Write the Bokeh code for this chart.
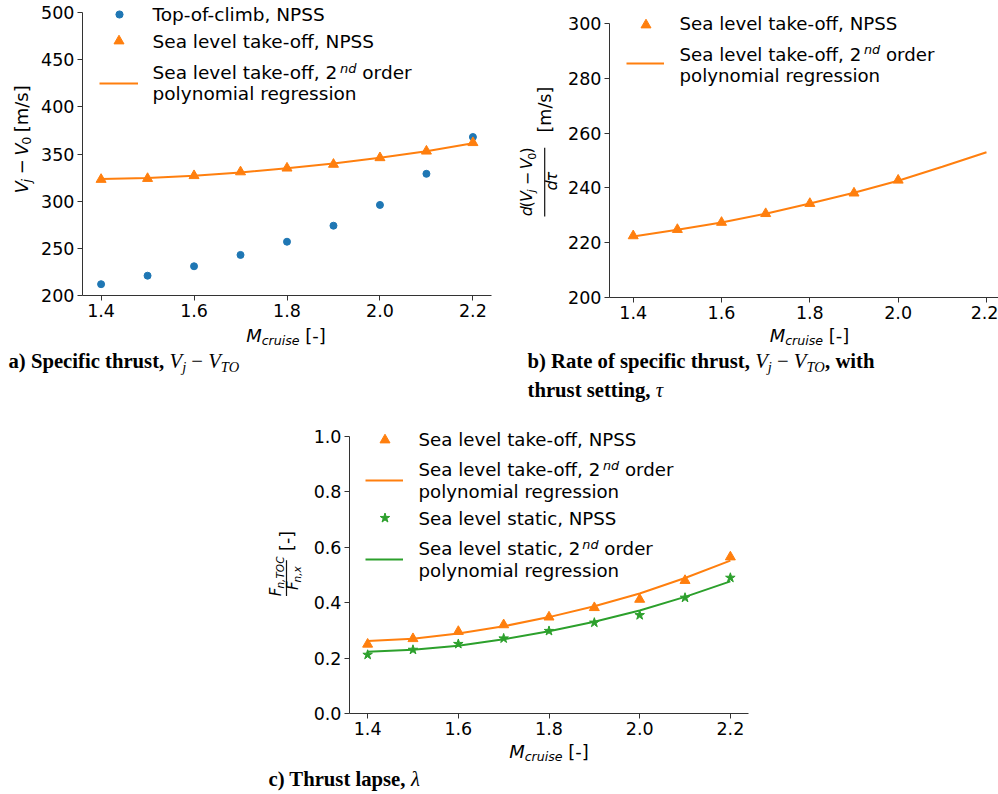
import math
from bokeh.plotting import figure
from bokeh.models import (Label, Legend, LegendItem, FixedTicker, PrintfTickFormatter,
                          BoxAnnotation, Range1d)
from bokeh.layouts import column, row
from bokeh.embed import file_html
from bokeh.resources import INLINE

# ---------------- data ----------------
mach = [1.4, 1.5, 1.6, 1.7, 1.8, 1.9, 2.0, 2.1, 2.2]
mach_b_npss = [1.4, 1.5, 1.6, 1.7, 1.8, 1.9, 2.0]
spec_thrust_toc_npss = [212, 221, 231, 243, 257, 274, 296, 329, 368]
spec_thrust_slto_npss = [323, 324, 327, 331, 335, 339, 346, 353, 362]
spec_thrust_slto_fit = [323.5, 324.5, 327, 330.5, 335, 340, 346, 353, 361.5]
rate_slto_npss = [222.5, 224.8, 227.4, 230.6, 234.3, 238.1, 242.8]
rate_slto_fit = [222.3, 224.7, 227.4, 230.6, 234.3, 238.2, 242.6, 247.7, 253.0]
lapse_slto_npss = [0.250, 0.270, 0.296, 0.320, 0.348, 0.382, 0.412, 0.480, 0.565]
lapse_slto_fit = [0.262, 0.270, 0.289, 0.315, 0.348, 0.387, 0.433, 0.489, 0.552]
lapse_sls_npss = [0.212, 0.230, 0.251, 0.271, 0.298, 0.328, 0.355, 0.418, 0.490]
lapse_sls_fit = [0.223, 0.230, 0.245, 0.268, 0.297, 0.331, 0.372, 0.421, 0.477]

x_ticks = [1.4, 1.6, 1.8, 2.0, 2.2]
a_y_ticks = [200, 250, 300, 350, 400, 450, 500]
b_y_ticks = [200, 220, 240, 260, 280, 300]
c_y_ticks = [0.0, 0.2, 0.4, 0.6, 0.8, 1.0]

BLUE, ORANGE, GREEN = "#1f77b4", "#ff7f0e", "#2ca02c"
AX = "#333333"
SANS = "DejaVu Sans"
SERIF = "Liberation Serif"
WS = " \u2009"
MID = {SANS: 0.346, SERIF: 0.3375}   # baseline -> middle-of-text-box offset (em)

# ---------------- approximate advance widths (em) for composing rich text ----------------
DV = {' ': .318, '\u2009': .15, '(': .390, ')': .390, ',': .318, '-': .361, '.': .318,
      '/': .337, '[': .390, ']': .390, '\u2212': .838, 'A': .684, 'C': .698, 'F': .575,
      'M': .863, 'N': .748, 'O': .787, 'P': .603, 'S': .635, 'T': .611, 'V': .684,
      'a': .613, 'b': .635, 'c': .550, 'd': .635, 'e': .615, 'f': .352, 'g': .635,
      'i': .278, 'j': .278, 'k': .579, 'l': .278, 'm': .974, 'n': .634, 'o': .612,
      'p': .635, 'r': .411, 's': .521, 't': .392, 'u': .634, 'v': .592, 'x': .592,
      'y': .592, '\u03c4': .560}
for _d in "0123456789":
    DV[_d] = .636
TB = {' ': .25, '(': .333, ')': .333, ',': .25, 'a': .5, 'b': .556, 'c': .444, 'e': .444,
      'f': .333, 'g': .5, 'h': .556, 'i': .278, 'l': .278, 'n': .556, 'o': .5, 'p': .556,
      'r': .444, 's': .389, 't': .333, 'u': .556, 'w': .722, 'T': .667, 'R': .722, 'S': .556}
TI = {' ': .25, 'V': .611, 'T': .556, 'O': .722, 'j': .278, '\u03c4': .44, '\u03bb': .5}
TR = {' ': .25, '\u2212': .564}


def tw(text, size, table):
    return sum(table.get(ch, 0.6) for ch in text) * size


# -------- coordinate mappers: page (x, y from top-left) -> label coords --------
def frame_map(fl, fb):
    return lambda x, y: (x - fl, fb - y, "screen")


def data_map():
    return lambda x, y: (x, y, "data")


def rich(p, mp, x0, y0, pieces, vertical=False, anchor="left"):
    """pieces: (text, size, font, style, width_table, baseline_raise); x0, y0 = baseline, page coords."""
    total = sum(tw(t, sz, tab) for (t, sz, f, st, tab, sh) in pieces)
    s = -total / 2 if anchor == "center" else 0.0
    for (t, sz, f, st, tab, sh) in pieces:
        core = t.strip(WS)
        lead = t[:len(t) - len(t.lstrip(WS))]
        sc = s + tw(lead, sz, tab)
        if core:
            up = sh + MID[f] * sz
            if vertical:
                px, py = x0 - up, y0 - sc
            else:
                px, py = x0 + sc, y0 - up
            lx, ly, units = mp(px, py)
            p.add_layout(Label(x=lx, y=ly, x_units=units, y_units=units,
                               text=core, text_font=f, text_font_style=st,
                               text_font_size=f"{sz}px", text_color="black",
                               text_align="left", text_baseline="middle",
                               angle=math.pi / 2 if vertical else 0.0))
        s += tw(t, sz, tab)


def text_fig(x0, y0, w, h):
    p = figure(width=w, height=h, x_range=Range1d(x0, x0 + w), y_range=Range1d(y0 + h, y0),
               min_border=0, min_border_left=0, min_border_right=0, min_border_top=0,
               min_border_bottom=0, x_axis_location=None, y_axis_location=None,
               output_backend="svg", toolbar_location=None, title=None)
    p.outline_line_color = None
    p.xgrid.visible = False
    p.ygrid.visible = False
    return p


def bar(p, x1, x2, y1, y2):
    p.add_layout(BoxAnnotation(left=x1, right=x2, top=y1, bottom=y2,
                               fill_color="#111111", fill_alpha=1.0, line_alpha=0.0))


def legend_glyph(p, fl, fb, r, cx, cy, gw, gh):
    p.add_layout(Legend(items=[LegendItem(label=" ", renderers=[r])],
                        location=(cx - gw / 2 - fl, fb - cy - gh / 2),
                        glyph_width=gw, glyph_height=gh, label_height=gh, label_width=1,
                        label_standoff=0, label_text_font_size="1px", padding=0, margin=0,
                        spacing=0, border_line_alpha=0, background_fill_alpha=0))


def make_panel(bl, fw, br, bt, fh, bb, xr, yr, yt, yfmt, ybounds):
    p = figure(frame_width=fw, frame_height=fh, min_border_left=bl, min_border_right=br,
               min_border_top=bt, min_border_bottom=bb, x_range=Range1d(*xr),
               y_range=Range1d(*yr), output_backend="svg", toolbar_location=None, title=None)
    p.outline_line_color = None
    p.xgrid.visible = False
    p.ygrid.visible = False
    for ax, ticks, fmt in ((p.xaxis[0], x_ticks, "%.1f"), (p.yaxis[0], yt, yfmt)):
        ax.ticker = FixedTicker(ticks=ticks, minor_ticks=[])
        ax.formatter = PrintfTickFormatter(format=fmt)
        ax.axis_line_color = AX
        ax.major_tick_line_color = AX
        ax.major_tick_out = 5
        ax.major_tick_in = 0
        ax.minor_tick_line_color = None
        ax.major_label_text_font = SANS
        ax.major_label_text_font_size = "17.5px"
        ax.major_label_text_color = "black"
        ax.major_label_standoff = 3
    p.yaxis[0].bounds = ybounds
    return p


def xlabel(p, cx, base):
    rich(p, data_map(), cx, base, [("M", 18, SANS, "italic", DV, 0),
                                   ("cruise", 12.6, SANS, "italic", DV, -3),
                                   (" [-]", 18, SANS, "normal", DV, 0)], anchor="center")


def vj_minus_vto(size, sub):
    return [("V", size, SERIF, "italic", TI, 0), ("j", sub, SERIF, "italic", TI, -4),
            (" \u2212 ", size, SERIF, "normal", TR, 0), ("V", size, SERIF, "italic", TI, 0),
            ("TO", sub, SERIF, "italic", TI, -4)]


def second_order(prefix, size, sup):
    return [(prefix, size, SANS, "normal", DV, 0),
            ("\u2009nd", sup, SANS, "italic", DV, 0.35 * size),
            (" order", size, SANS, "normal", DV, 0)]


LS = 18.2  # legend font size (b, c)
CS = 20.7  # caption font size

# ================= panel a =================
# frame 4..295 (page), 500 at y=12, 200 at y=295
FL_A, FB_A = 81, 295
pa = make_panel(43, 409, 10, 4, 291, 30, (1.36, 2.24), (200, 500 + 8 * 300 / 283),
                a_y_ticks, "%d", (200, 500))
r_toc = pa.scatter(mach, spec_thrust_toc_npss, marker="circle", size=7, color=BLUE)
r_to_a = pa.scatter(mach, spec_thrust_slto_npss, marker="triangle", size=10, color=ORANGE)
r_fit_a = pa.line(mach, spec_thrust_slto_fit, line_width=2, color=ORANGE)
ma = frame_map(FL_A, FB_A)
legend_glyph(pa, FL_A, FB_A, r_toc, 117.5, 13.5, 18, 18)
legend_glyph(pa, FL_A, FB_A, r_to_a, 117.5, 40, 25, 25)
legend_glyph(pa, FL_A, FB_A, r_fit_a, 117.5, 83, 39, 20)
rich(pa, ma, 151, 20, [("Top-of-climb, NPSS", 18.5, SANS, "normal", DV, 0)])
rich(pa, ma, 151, 47, [("Sea level take-off, NPSS", 18.5, SANS, "normal", DV, 0)])
rich(pa, ma, 151, 78.5, second_order("Sea level take-off, 2", 18.5, 13))
rich(pa, ma, 151, 99.5, [("polynomial regression", 18.5, SANS, "normal", DV, 0)])

ta_left = text_fig(0, 0, 38, 325)
rich(ta_left, data_map(), 27, 153.5, [("V", 18, SANS, "italic", DV, 0),
                                      ("j", 12.6, SANS, "italic", DV, -3.5),
                                      (" \u2212 ", 18, SANS, "normal", DV, 0),
                                      ("V", 18, SANS, "italic", DV, 0),
                                      ("0", 12.6, SANS, "normal", DV, -3.5),
                                      (" [m/s]", 18, SANS, "normal", DV, 0)],
     vertical=True, anchor="center")
ta_below = text_fig(0, 325, 500, 95)
xlabel(ta_below, 285.5, 341)
rich(ta_below, data_map(), 8, 367,
     [("a) Specific thrust, ", CS, SERIF, "bold", TB, 0)] + vj_minus_vto(CS, 14.5))

# ================= panel b =================
# frame 14..297 (page), 300 at y=23, 200 at y=297
FL_B, FB_B = 608, 297
pb = make_panel(48, 389, 0, 14, 283, 28, (1.3463, 1.4 + (997 - 631.7) / 441.6),
                (200, 300 + 9 / 2.74), b_y_ticks, "%d", (200, 300))
r_to_b = pb.scatter(mach_b_npss, rate_slto_npss, marker="triangle", size=10, color=ORANGE)
r_fit_b = pb.line(mach, rate_slto_fit, line_width=2, color=ORANGE)
mb = frame_map(FL_B, FB_B)
legend_glyph(pb, FL_B, FB_B, r_to_b, 644, 24, 25, 25)
legend_glyph(pb, FL_B, FB_B, r_fit_b, 644, 63.3, 38, 20)
rich(pb, mb, 678, 29.5, [("Sea level take-off, NPSS", LS, SANS, "normal", DV, 0)])
rich(pb, mb, 678, 60, second_order("Sea level take-off, 2", LS, 12.8))
rich(pb, mb, 678, 81.5, [("polynomial regression", LS, SANS, "normal", DV, 0)])

tb_left = text_fig(500, 0, 60, 325)
rich(tb_left, data_map(), 531, 192.5, [("d", 16, SANS, "italic", DV, 0),
                                       ("(", 16, SANS, "normal", DV, 0),
                                       ("V", 16, SANS, "italic", DV, 0),
                                       ("j", 11.2, SANS, "italic", DV, -3),
                                       (" \u2212 ", 16, SANS, "normal", DV, 0),
                                       ("V", 16, SANS, "italic", DV, 0),
                                       ("0", 11.2, SANS, "normal", DV, -3),
                                       (")", 16, SANS, "normal", DV, 0)],
     vertical=True, anchor="center")
bar(tb_left, 542.6, 543.8, 153, 232)
rich(tb_left, data_map(), 555.5, 192.5, [("d", 16, SANS, "italic", DV, 0),
                                         ("\u03c4", 16, SANS, "italic", DV, 0)],
     vertical=True, anchor="center")
rich(tb_left, data_map(), 549.5, 135.5, [("[m/s]", 17.5, SANS, "normal", DV, 0)],
     vertical=True)
tb_below = text_fig(500, 325, 497, 95)
xlabel(tb_below, 808, 341.5)
rich(tb_below, data_map(), 526, 367,
     [("b) Rate of specific thrust, ", CS, SERIF, "bold", TB, 0)]
     + vj_minus_vto(CS, 14.5) + [(", with", CS, SERIF, "bold", TB, 0)])
rich(tb_below, data_map(), 526, 396, [("thrust setting, ", CS, SERIF, "bold", TB, 0),
                                      ("\u03c4", CS, SERIF, "italic", TI, 0)])

# ================= panel c =================
# frame 428..713 (page), 1.0 at y=436, 0.0 at y=713
FL_C, FB_C = 349, 713
pc = make_panel(44, 399, 12, 8, 285, 27, (1.36, 2.24), (0.0, 1.0 + 8 / 277),
                c_y_ticks, "%.1f", (0.0, 1.0))
r_to_c = pc.scatter(mach, lapse_slto_npss, marker="triangle", size=10, color=ORANGE)
r_fit_to_c = pc.line(mach, lapse_slto_fit, line_width=2, color=ORANGE)
r_sls_c = pc.scatter(mach, lapse_sls_npss, marker="star", size=10, color=GREEN)
r_fit_sls_c = pc.line(mach, lapse_sls_fit, line_width=2, color=GREEN)
mc = frame_map(FL_C, FB_C)
legend_glyph(pc, FL_C, FB_C, r_to_c, 384, 439, 25, 25)
legend_glyph(pc, FL_C, FB_C, r_fit_to_c, 384, 479.5, 38, 20)
legend_glyph(pc, FL_C, FB_C, r_sls_c, 384, 517.5, 25, 25)
legend_glyph(pc, FL_C, FB_C, r_fit_sls_c, 384, 558.5, 38, 20)
rich(pc, mc, 418, 445.5, [("Sea level take-off, NPSS", LS, SANS, "normal", DV, 0)])
rich(pc, mc, 418, 475.5, second_order("Sea level take-off, 2", LS, 12.8))
rich(pc, mc, 418, 497.5, [("polynomial regression", LS, SANS, "normal", DV, 0)])
rich(pc, mc, 418, 524, [("Sea level static, NPSS", LS, SANS, "normal", DV, 0)])
rich(pc, mc, 418, 554.5, second_order("Sea level static, 2", LS, 12.8))
rich(pc, mc, 418, 576.5, [("polynomial regression", LS, SANS, "normal", DV, 0)])

tc_left = text_fig(0, 420, 305, 320)
rich(tc_left, data_map(), 280.5, 588, [("F", 15, SANS, "italic", DV, 0),
                                       ("n,TOC", 10.5, SANS, "italic", DV, -2.5)],
     vertical=True, anchor="center")
bar(tc_left, 285.4, 286.6, 568, 608)
rich(tc_left, data_map(), 298, 589, [("F", 15, SANS, "italic", DV, 0),
                                     ("n,x", 10.5, SANS, "italic", DV, -2.5)],
     vertical=True, anchor="center")
rich(tc_left, data_map(), 293, 547.5, [("[-]", 17.5, SANS, "normal", DV, 0)],
     vertical=True, anchor="center")
tc_below = text_fig(0, 740, 760, 53)
xlabel(tc_below, 548.5, 757)
rich(tc_below, data_map(), 268, 785, [("c) Thrust lapse, ", CS, SERIF, "bold", TB, 0),
                                      ("\u03bb", CS, SERIF, "italic", TI, 0)])

block_a = column(row(ta_left, pa), ta_below)
block_b = column(row(tb_left, pb), tb_below)
block_c = column(row(tc_left, pc), tc_below)
layout = column(row(block_a, block_b), block_c)
open("out.html", "w").write(file_html(layout, INLINE))
